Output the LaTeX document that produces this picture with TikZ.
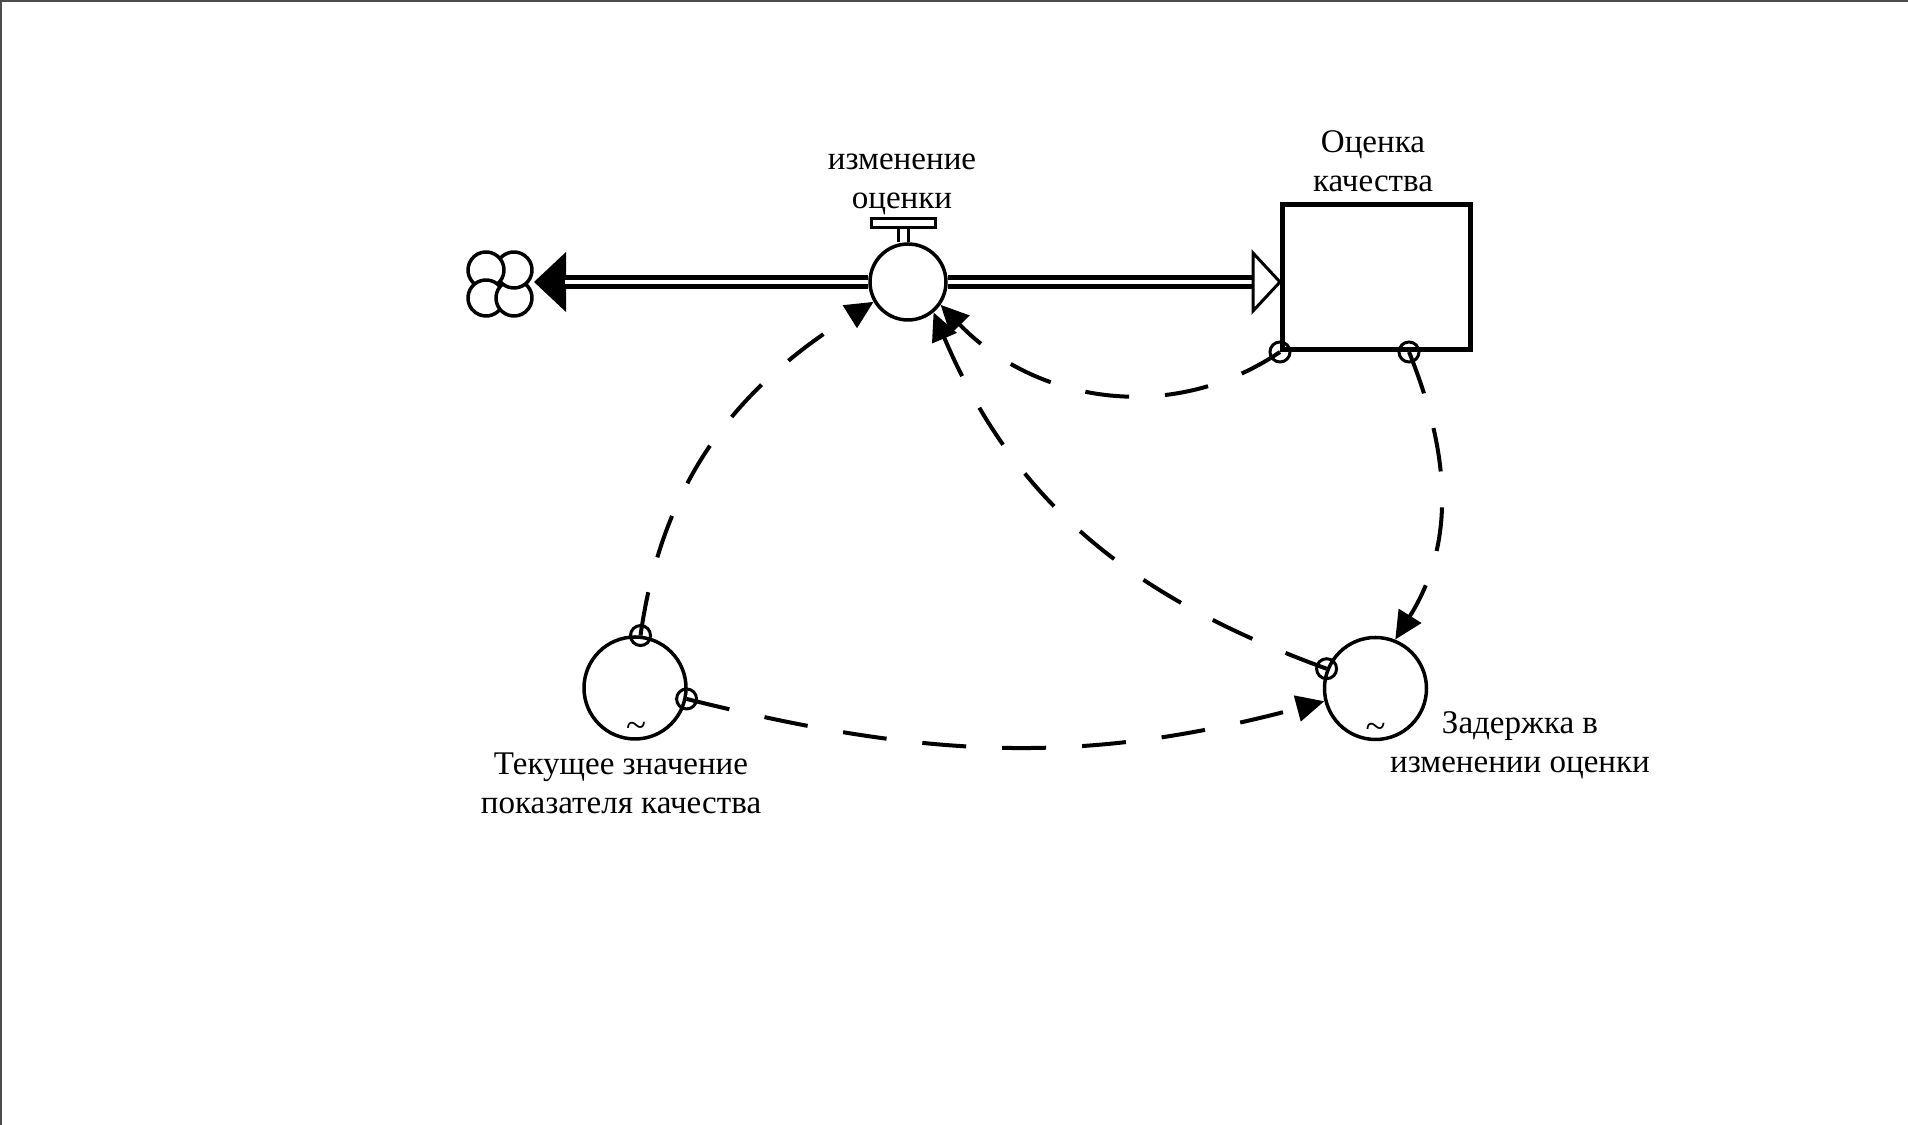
\documentclass[tikz,border=0pt]{standalone}
\usepackage{fontspec}
\setmainfont{Liberation Serif}
\usetikzlibrary{arrows.meta,positioning,calc}
\begin{document}
\begin{tikzpicture}
    [
    x=0.1mm, y=0.1mm,
    rate/.style={
      circle,
      draw,
      fill=white,
      line width=0.35mm,
      minimum size=7.6mm,
      inner sep=0pt
    },
    level/.style={
      rectangle,
      draw,
      line width=0.5mm,
      minimum width=18.8mm,
      minimum height=14.5mm,
      inner sep=0pt
    },
    aux/.style={
      circle,
      draw,
      fill=white,
      line width=0.35mm,
      minimum size=10.2mm,
      inner sep=0pt
    },
    pipe/.style={
      line width=0.45mm,
      double=white,
      double distance=0.45mm
    },
    link/.style={
      line width=0.4mm,
      dash pattern=on 4.4mm off 3.6mm,
      -{Triangle[length=2.8mm,width=2.6mm]}
    },
    nametext/.style={
      font=\fontsize{9.4}{11.1}\selectfont,
      align=center,
      inner sep=0pt
    }]
    \useasboundingbox (0,0) rectangle (1908,1125);
    \draw[line width=0.2mm, black!70] (1,0) -- (1,1124) -- (1908,1124);
    \node (valve) at (908,843) [rate] {};
    \node (stock) at (1376.5,848) [level] {};
    \node (laux) at (635,437) [aux] {};
    \node (raux) at (1375.5,436.5) [aux] {};
    \coordinate (cloud) at (500,841);
    \foreach \a in {45,135,225,315}
      \draw[line width=0.35mm] (cloud) ++(\a:19.8) ++(\a+174:18)
        arc[start angle=\a+174, end angle=\a+456, radius=18];
    \coordinate (ltip) at ($(cloud)+(34,2)$);
    \fill (ltip) -- ++(32,30) -- ++(0,-60) -- cycle;
    \draw[pipe] (valve.west) -- ($(ltip)+(31,0)$);
    \coordinate (htip) at (valve -| stock.west);
    \draw[pipe] (valve.east) -- ($(htip)+(-26,0)$);
    \draw[line width=0.3mm, fill=white] (htip) -- ++(-27,29) -- ++(0,-58) -- cycle;
    \coordinate (stem) at ($(valve.north)+(-5,0)$);
    \draw[line width=0.3mm] ($(stem)+(-5,0)$) -- ++(0,14) ($(stem)+(5,0)$) -- ++(0,14);
    \node (bar) at ($(stem)+(0,19)$) [draw, fill=white, line width=0.3mm, minimum width=6.4mm, minimum height=0.9mm, inner sep=0pt] {};
    \node (valvetext) at (902,972) [nametext, anchor=north] {изменение\\оценки};
    \node (stocktext) at (1373,995.5) [nametext, anchor=north] {Оценка\\качества};
    \node (lauxtext) at (621,373) [nametext, anchor=north] {Текущее значение\\показателя качества};
    \node (rauxtext) at (1520,414) [nametext, anchor=north] {Задержка в\\изменении оценки};
    \node (lauxsym) at ($(laux)+(1,-42)$) [nametext, font=\fontsize{10.5}{12}\selectfont] {\textasciitilde};
    \node (rauxsym) at ($(raux)+(0,-42)$) [nametext, font=\fontsize{10.5}{12}\selectfont] {\textasciitilde};
    \coordinate[right=3.25mm of stock.south] (stockb);
    \draw[link] (laux.84) to[out=82,in=212] (valve.210);
    \draw[link] (stock.south west) to[out=214,in=-46] (valve.-35);
    \draw[link] (raux.158) to[out=160,in=-67] (valve.-50);
    \draw[link] (stockb) to[out=-68,in=58] (raux.68);
    \draw[link] (laux.-12) to[out=-14,in=195] (raux.194);
    \foreach \p in {laux.84, laux.-12, raux.158, stock.south west, stockb}
      \draw[line width=0.3mm] (\p) circle (10);
  \end{tikzpicture}
\end{document}
